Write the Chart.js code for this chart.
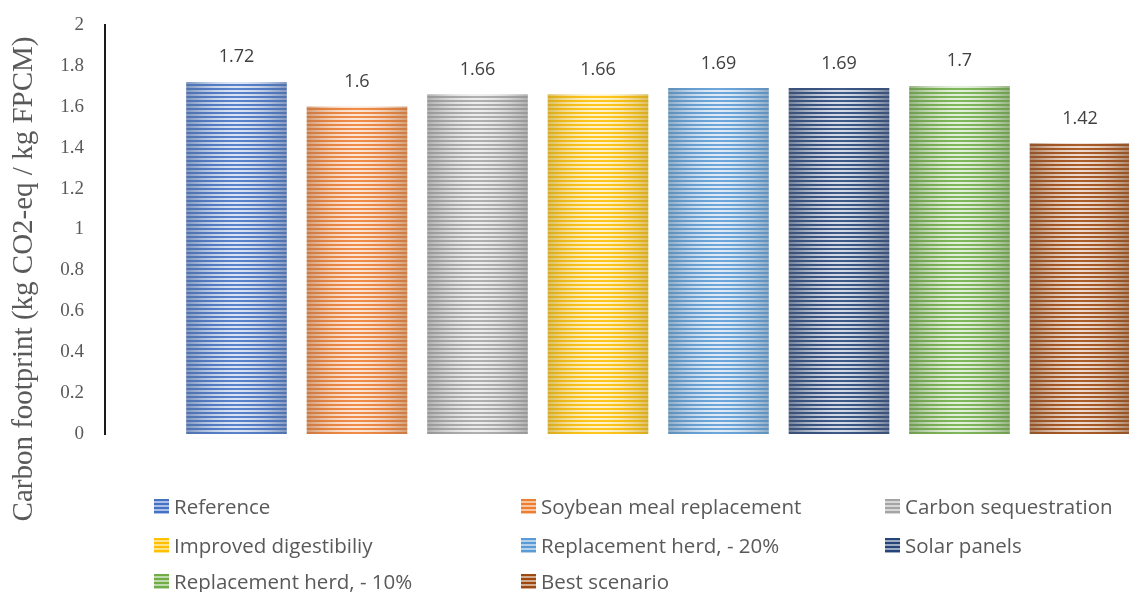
<!DOCTYPE html>
<html>
<head>
<meta charset="utf-8">
<script src="https://cdn.jsdelivr.net/npm/chart.js@4.4.1/dist/chart.umd.min.js"></script>
<style>
  html, body { margin: 0; padding: 0; background: #fff; }
  #wrap { position: relative; width: 1129px; height: 592px; overflow: hidden; }
  #legend { position: absolute; left: 0; top: 0; width: 1129px; height: 592px; pointer-events: none; }
  .item { position: absolute; display: flex; align-items: center; height: 30px;
          font-family: "Open Sans", sans-serif; font-size: 20.5px; color: #595959; white-space: nowrap; }
  .box { width: 15px; height: 15px; margin-right: 5px; }
</style>
</head>
<body>
<div id="wrap">
  <canvas id="chart"></canvas>
  <div id="legend"></div>
</div>
<script>
const categories = ['Reference', 'Soybean meal replacement', 'Carbon sequestration',
  'Improved digestibiliy', 'Replacement herd, - 20%', 'Solar panels',
  'Replacement herd, - 10%', 'Best scenario'];
const footprint = [1.72, 1.6, 1.66, 1.66, 1.69, 1.69, 1.7, 1.42];
const barColors = ['#4472C4', '#ED7D31', '#A5A5A5', '#FFC000', '#5B9BD5', '#264478', '#70AD47', '#9E480E'];
const yTickLabels = ['0', '0.2', '0.4', '0.6', '0.8', '1', '1.2', '1.4', '1.6', '1.8', '2'];
const yTitle = 'Carbon footprint (kg CO2-eq / kg FPCM)';

const BAR_W = 100;

function hexRgb(h) {
  return [parseInt(h.slice(1, 3), 16), parseInt(h.slice(3, 5), 16), parseInt(h.slice(5, 7), 16)];
}
function mix(a, b, t) {
  return a.map((v, i) => Math.round(v + (b[i] - v) * t));
}

// striped fill with a light centre, like the Excel picture fill
const patternCache = {};
function stripeCanvas(color) {
  if (patternCache[color]) return patternCache[color];
  const c = document.createElement('canvas');
  c.width = BAR_W; c.height = 4;
  const g = c.getContext('2d');
  const base = hexRgb(color), white = [255, 255, 255], grey = [120, 120, 120];
  for (let x = 0; x < BAR_W; x++) {
    const t = Math.abs(x + 0.5 - BAR_W / 2) / (BAR_W / 2);
    const s = Math.pow(t, 2);
    let dark = mix(base, white, 0.12 * (1 - t));
    dark = mix(dark, grey, 0.3 * s);
    let light = mix(base, white, 0.8 - 0.45 * s);
    light = mix(light, grey, 0.25 * s);
    g.fillStyle = 'rgb(' + dark.join(',') + ')';
    g.fillRect(x, 0, 1, 2);
    g.fillStyle = 'rgb(' + light.join(',') + ')';
    g.fillRect(x, 2, 1, 2);
  }
  patternCache[color] = c;
  return c;
}

function stripeFill(c) {
  const ds = c.chart.data.datasets[c.datasetIndex];
  if (c.type !== 'data' || !c.chart.scales.x) return ds.baseColor;
  const left = c.chart.scales.x.getPixelForValue(c.raw.x) - BAR_W / 2;
  const p = c.chart.ctx.createPattern(stripeCanvas(ds.baseColor), 'repeat');
  p.setTransform(new DOMMatrix([1, 0, 0, 1, left, 0]));
  return p;
}

const valueLabels = {
  id: 'valueLabels',
  afterDatasetsDraw(chart) {
    const ctx = chart.ctx;
    ctx.save();
    ctx.font = '18px "Open Sans"';
    ctx.fillStyle = '#404040';
    ctx.textAlign = 'center';
    ctx.textBaseline = 'middle';
    chart.data.datasets.forEach((ds, i) => {
      const el = chart.getDatasetMeta(i).data[0];
      ctx.fillText(String(ds.data[0].y), el.x, el.y - 25);
    });
    ctx.restore();
  }
};

const sideTitle = {
  id: 'sideTitle',
  afterDraw(chart) {
    const ctx = chart.ctx;
    ctx.save();
    ctx.translate(24, 279);
    ctx.rotate(-Math.PI / 2);
    ctx.font = '29px "Liberation Serif"';
    ctx.fillStyle = '#595959';
    ctx.textAlign = 'center';
    ctx.textBaseline = 'middle';
    ctx.fillText(yTitle, 0, 0);
    ctx.restore();
  }
};

new Chart(document.getElementById('chart'), {
  type: 'bar',
  data: {
    datasets: categories.map((name, i) => ({
      label: name,
      data: [{ x: i, y: footprint[i] }],
      baseColor: barColors[i],
      backgroundColor: stripeFill,
      borderWidth: 0,
      barThickness: BAR_W,
      grouped: false
    }))
  },
  options: {
    responsive: true,
    maintainAspectRatio: false,
    animation: false,
    layout: { padding: { top: 25, bottom: 158, left: 0, right: 0 } },
    plugins: { legend: { display: false }, tooltip: { enabled: false } },
    scales: {
      x: { type: 'linear', display: false, offset: false, min: -1.0913, max: 7.4067 },
      y: {
        min: 0, max: 2,
        afterFit(s) { s.width = 105; s.paddingTop = 0; s.paddingBottom = 0; },
        grid: { display: false, drawTicks: false },
        border: { display: true, color: '#1a1a1a', width: 2 },
        ticks: {
          stepSize: 0.2, padding: 21, color: '#595959',
          font: { family: 'Liberation Serif', size: 19 },
          callback: (v, i) => yTickLabels[i]
        }
      }
    }
  },
  plugins: [valueLabels, sideTitle]
});

// legend in three columns, as in the reference
const legendCols = [154, 521, 885];
const legendRows = [506, 545, 581];
const legend = document.getElementById('legend');
categories.forEach((name, i) => {
  const item = document.createElement('div');
  item.className = 'item';
  item.style.left = legendCols[i % 3] + 'px';
  item.style.top = (legendRows[Math.floor(i / 3)] - 15) + 'px';
  const box = document.createElement('span');
  box.className = 'box';
  const base = hexRgb(barColors[i]);
  const light = mix(base, [255, 255, 255], 0.55);
  box.style.background = 'repeating-linear-gradient(to bottom, ' + barColors[i] + ' 0 2px, rgb(' + light.join(',') + ') 2px 4px)';
  const txt = document.createElement('span');
  txt.textContent = name;
  item.appendChild(box);
  item.appendChild(txt);
  legend.appendChild(item);
});
</script>
</body>
</html>
